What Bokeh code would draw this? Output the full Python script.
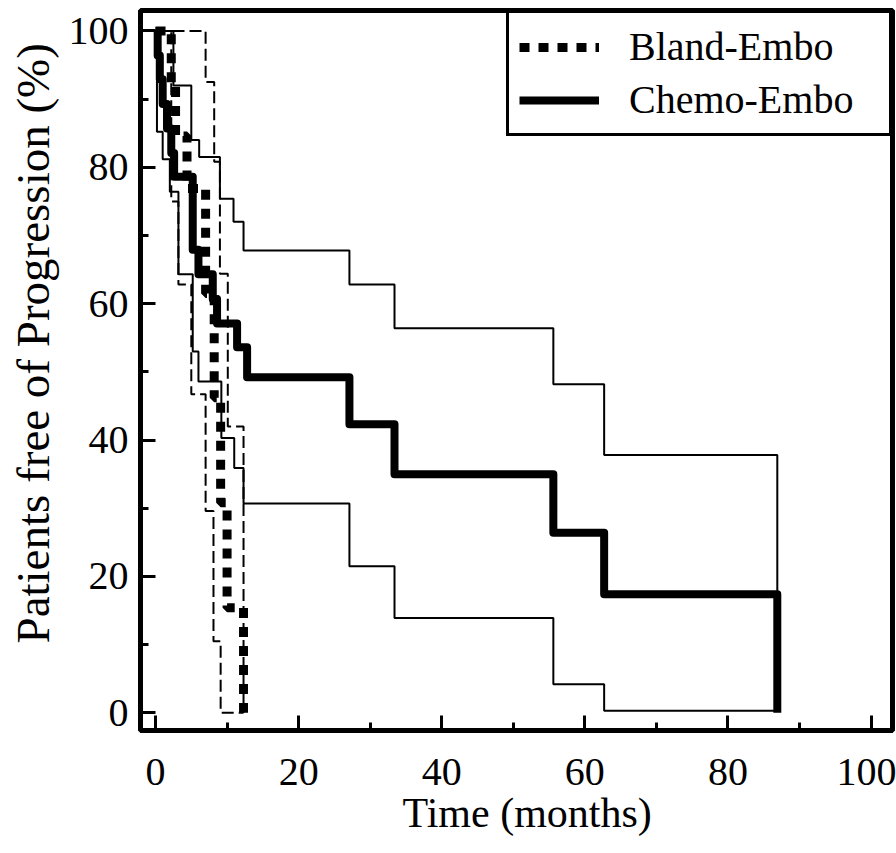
from bokeh.plotting import figure
from bokeh.models import Range1d, FixedTicker, Legend, LegendItem, Title
from bokeh.embed import file_html
from bokeh.resources import INLINE

# ---------------- data ----------------
# Chemo-Embo Kaplan-Meier estimate (time in months, % free of progression)
chemo_t = [0, 0.3, 0.6, 1.0, 1.6, 2.2, 2.6, 5.2, 6.0, 8.0, 8.6, 11.4, 12.8, 27.1, 33.4, 55.6, 62.7, 86.9]
chemo_s = [100, 96.4, 92.9, 89.3, 85.7, 82.1, 78.6, 67.9, 64.3, 60.7, 57.1, 53.6, 49.2, 42.3, 35.0, 26.4, 17.4, 0]
# Chemo-Embo confidence band
chemo_up_t = [0, 2.5, 5.0, 6.1, 9.0, 10.9, 12.3, 27.1, 33.4, 55.6, 62.7, 86.9]
chemo_up_s = [100, 92.0, 84.0, 81.5, 75.4, 72.0, 67.8, 62.8, 56.4, 48.2, 37.8, 17.4]
chemo_lo_t = [0, 0.2, 1.0, 2.0, 3.2, 5.2, 6.0, 9.2, 11.0, 12.3, 27.1, 33.4, 55.6, 62.7, 86.9]
chemo_lo_s = [100, 85.2, 81.2, 76.4, 64.3, 53.0, 48.6, 40.3, 35.9, 30.7, 21.5, 13.9, 4.2, 0.3, 0.3]

# Bland-Embo Kaplan-Meier estimate
bland_t = [0, 2.2, 2.8, 4.4, 7.0, 8.2, 9.1, 10.0, 12.3]
bland_s = [100, 92.3, 84.6, 76.9, 61.5, 46.2, 30.8, 15.4, 0]
# Bland-Embo confidence band
bland_up_t = [0, 7.0, 8.2, 9.0, 10.1, 12.3]
bland_up_s = [100, 92.5, 80.8, 64.4, 42.0, 0]
bland_lo_t = [0, 2.2, 3.2, 5.0, 7.0, 8.1, 9.1, 12.3]
bland_lo_s = [100, 75.0, 62.8, 46.7, 29.6, 10.5, 0, 0]

x_major = [0, 20, 40, 60, 80, 100]
x_minor = [10, 30, 50, 70, 90]
y_major = [0, 20, 40, 60, 80, 100]
y_minor = [10, 30, 50, 70, 90]

series_labels = ["Bland-Embo", "Chemo-Embo"]
x_title = "Time (months)"
y_title = "Patients free of Progression (%)"

FONT = "Liberation Serif"

# ---------------- figure ----------------
p = figure(width=896, height=853,
           x_range=Range1d(-2.1, 103), y_range=Range1d(-2.6, 103),
           output_backend="svg", toolbar_location=None,
           min_border_left=140, min_border_right=4,
           min_border_top=10, min_border_bottom=123)
p.xgrid.visible = False
p.ygrid.visible = False
p.background_fill_color = "white"
p.border_fill_color = "white"
p.outline_line_color = "black"
p.outline_line_width = 5
p.outline_line_alpha = 1.0

p.xaxis.ticker = FixedTicker(ticks=x_major, minor_ticks=x_minor)
p.yaxis.ticker = FixedTicker(ticks=y_major, minor_ticks=y_minor)

for ax in (p.xaxis[0], p.yaxis[0]):
    ax.axis_line_width = 5
    ax.axis_line_color = "black"
    ax.major_tick_in = 15
    ax.major_tick_out = 0
    ax.minor_tick_in = 8
    ax.minor_tick_out = 0
    ax.major_tick_line_width = 3
    ax.minor_tick_line_width = 3
    ax.major_tick_line_color = "black"
    ax.minor_tick_line_color = "black"
    ax.major_label_text_font = FONT
    ax.major_label_text_font_size = "40px"
    ax.major_label_text_color = "black"

p.xaxis.major_label_standoff = 28
p.yaxis.major_label_standoff = 12

# axis titles as side titles, anchored at their start like the reference
p.add_layout(Title(text=x_title, align="left", offset=262, standoff=0,
                   text_font=FONT, text_font_size="42px", text_font_style="normal",
                   text_color="black"), "below")
p.add_layout(Title(text=y_title, align="left", offset=87, standoff=10,
                   vertical_align="top",
                   text_font=FONT, text_font_size="47px", text_font_style="normal",
                   text_color="black"), "left")

# confidence bands
p.step(chemo_up_t, chemo_up_s, mode="after", line_color="black", line_width=2)
p.step(chemo_lo_t, chemo_lo_s, mode="after", line_color="black", line_width=2)
p.step(bland_up_t, bland_up_s, mode="after", line_color="black", line_width=2, line_dash="12 5")
p.step(bland_lo_t, bland_lo_s, mode="after", line_color="black", line_width=2, line_dash="12 5")

# main curves
r_chemo = p.step(chemo_t, chemo_s, mode="after", line_color="black", line_width=8,
                 line_join="round")
r_bland = p.step(bland_t, bland_s, mode="after", line_color="black", line_width=9,
                 line_dash="10 9", line_cap="butt")

legend = Legend(items=[LegendItem(label=series_labels[0], renderers=[r_bland]),
                       LegendItem(label=series_labels[1], renderers=[r_chemo])],
                location="top_right", margin=0, padding=10, spacing=6,
                glyph_width=80, glyph_height=44, label_height=44, label_width=250,
                label_standoff=30,
                label_text_font=FONT, label_text_font_size="40px",
                label_text_color="black",
                border_line_color="black", border_line_width=3, border_line_alpha=1.0,
                background_fill_color="white", background_fill_alpha=1.0)
p.add_layout(legend)

open("out.html", "w").write(file_html(p, INLINE))
